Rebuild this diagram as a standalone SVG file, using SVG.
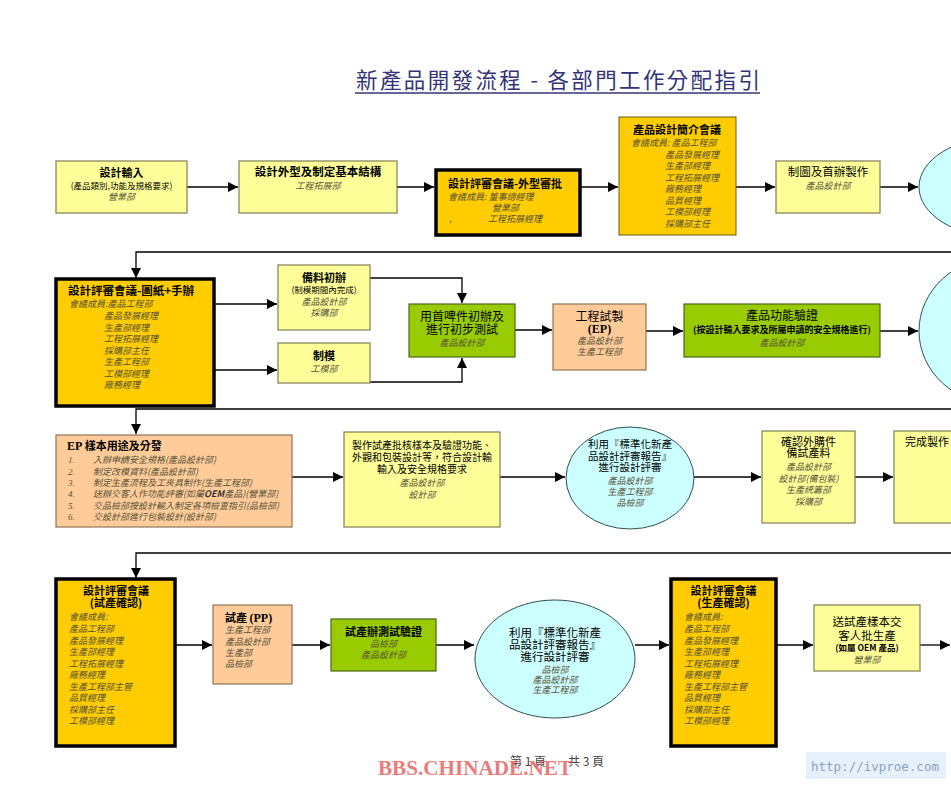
<svg xmlns="http://www.w3.org/2000/svg" width="951" height="785" viewBox="0 0 951 785">
<defs>
<marker id="ah" viewBox="0 0 10 10" markerWidth="10" markerHeight="10" markerUnits="userSpaceOnUse" refX="10" refY="5" orient="auto"><path d="M0,0 L10,5 L0,10 z" fill="#000"/></marker>
<style>
text{font-family:"Noto Sans CJK TC","Liberation Sans",sans-serif;fill:#000}
.c{text-anchor:middle}
.b{font-weight:bold;font-size:11px}
.n{font-size:11.5px}
.s{font-size:8.5px}
.i{font-style:italic;font-size:9px;fill:#58533a}
.sf{font-family:"Liberation Serif",serif}
.y{fill:#FFFF99;stroke:#7f7f55;stroke-width:1.2}
.g{fill:#FFCC00;stroke:#6b5a1e;stroke-width:1}
.gk{fill:#FFCC00;stroke:#000;stroke-width:3.5}
.gr{fill:#99CC00;stroke:#4d661a;stroke-width:1.2}
.p{fill:#FFCC99;stroke:#8c7359;stroke-width:1.2}
.e{fill:#CCFFFF;stroke:#2f4f4f;stroke-width:1}
.ln{fill:none;stroke:#000;stroke-width:1.3}
</style>
</defs>
<rect width="951" height="785" fill="#fff"/>
<g id="title">
<text x="356" y="88" textLength="404" lengthAdjust="spacing" style="font-size:21.5px;fill:#333377">新產品開發流程 - 各部門工作分配指引</text>
<line x1="355" y1="93" x2="760" y2="93" stroke="#333377" stroke-width="1.3"/>
</g>
<g id="connectors" class="ln" marker-end="url(#ah)">
<line x1="187" y1="187" x2="238" y2="187"/>
<line x1="397" y1="187" x2="434" y2="187"/>
<line x1="580" y1="187" x2="618" y2="187"/>
<line x1="736" y1="187" x2="775" y2="187"/>
<line x1="880" y1="187" x2="918" y2="187"/>
<polyline points="960,252 136,252 136,278"/>
<line x1="215" y1="304" x2="277" y2="304"/>
<line x1="215" y1="370" x2="277" y2="370"/>
<polyline points="370,278 462,278 462,303"/>
<polyline points="370,382 462,382 462,358"/>
<line x1="515" y1="330" x2="552" y2="330"/>
<line x1="646" y1="331" x2="683" y2="331"/>
<line x1="880" y1="331" x2="918" y2="331"/>
<polyline points="960,409 136,409 136,434"/>
<line x1="292" y1="477" x2="343" y2="477"/>
<line x1="500" y1="477" x2="565" y2="477"/>
<line x1="694" y1="477" x2="761" y2="477"/>
<line x1="855" y1="477" x2="893" y2="477"/>
<polyline points="960,553 136,553 136,578"/>
<line x1="176" y1="645" x2="212" y2="645"/>
<line x1="292" y1="645" x2="330" y2="645"/>
<line x1="436" y1="645" x2="474" y2="645"/>
<line x1="635" y1="645" x2="669" y2="645"/>
<line x1="777" y1="645" x2="813" y2="645"/>
<line x1="920" y1="645" x2="950" y2="645"/>
</g>
<g id="n1"><rect class="y" x="56" y="161" width="131" height="52"/>
<text x="121.5" y="177" class="c b">設計輸入</text>
<text x="121.5" y="189" class="c s">(產品類別,功能及規格要求)</text>
<text x="121.5" y="200" class="c i">營業部</text></g>
<g id="n2"><rect class="y" x="239" y="161" width="158" height="52"/>
<text x="318" y="176" class="c b" style="font-size:11.5px">設計外型及制定基本結構</text>
<text x="318" y="189" class="c i">工程拓展部</text></g>
<g id="n3"><rect class="gk" x="436" y="170" width="144" height="65"/>
<text x="448" y="188" class="b">設計評審會議-外型審批</text>
<text x="448" y="200" class="i">會議成員:  董事總經理</text>
<text x="492" y="211" class="i">營業部</text>
<text x="449" y="222" class="i">,</text>
<text x="488" y="222" class="i">工程拓展經理</text></g>
<g id="n4"><rect class="g" x="619" y="117" width="117" height="118"/>
<text x="677" y="134" class="c b">產品設計簡介會議</text>
<text x="631" y="146" class="i">會議成員: 產品工程部</text>
<text x="665" y="158" class="i">產品發展經理</text>
<text x="665" y="169" class="i">生產部經理</text>
<text x="665" y="181" class="i">工程拓展經理</text>
<text x="665" y="192" class="i">廠務經理</text>
<text x="665" y="204" class="i">品質經理</text>
<text x="665" y="215" class="i">工模部經理</text>
<text x="665" y="227" class="i">採購部主任</text></g>
<g id="n5"><rect class="y" x="776" y="161" width="104" height="52"/>
<text x="828" y="176" class="c n">制圖及首辦製作</text>
<text x="828" y="189" class="c i">產品設計部</text></g>
<g id="n6"><ellipse class="e" cx="1000" cy="187" rx="81" ry="50"/></g>
<g id="n7"><rect class="gk" x="56" y="279" width="158" height="127"/>
<text x="68" y="295" class="b" style="font-size:11.5px">設計評審會議-圖紙+手辦</text>
<text x="69" y="307" class="i">會議成員:產品工程部</text>
<text x="104" y="319" class="i">產品發展經理</text>
<text x="104" y="330.5" class="i">生產部經理</text>
<text x="104" y="342" class="i">工程拓展經理</text>
<text x="104" y="353.5" class="i">採購部主任</text>
<text x="104" y="365" class="i">生產工程部</text>
<text x="104" y="376.5" class="i">工模部經理</text>
<text x="104" y="388" class="i">廠務經理</text></g>
<g id="n8"><rect class="y" x="278" y="265" width="92" height="65"/>
<text x="324" y="282" class="c b">備料初辦</text>
<text x="324" y="293" class="c s">(制模期間內完成)</text>
<text x="324" y="305" class="c i">產品設計部</text>
<text x="324" y="316" class="c i">採購部</text></g>
<g id="n9"><rect class="y" x="278" y="343" width="92" height="40"/>
<text x="324" y="360" class="c b">制模</text>
<text x="324" y="372" class="c i">工模部</text></g>
<g id="n10"><rect class="gr" x="409" y="304" width="106" height="53"/>
<text x="462" y="321" class="c" style="font-size:12px">用首啤件初辦及</text>
<text x="462" y="334" class="c" style="font-size:12px">進行初步測試</text>
<text x="462" y="346" class="c i">產品設計部</text></g>
<g id="n11"><rect class="p" x="553" y="304" width="93" height="66"/>
<text x="599.5" y="321" class="c" style="font-size:12px">工程試製</text>
<text x="599.5" y="333" class="c sf" style="font-size:12px;font-weight:bold">(EP)</text>
<text x="599.5" y="344" class="c i">產品設計部</text>
<text x="599.5" y="355" class="c i">生產工程部</text></g>
<g id="n12"><rect class="gr" x="684" y="304" width="196" height="53"/>
<text x="782" y="320" class="c" style="font-size:12px">產品功能驗證</text>
<text x="782" y="333" class="c" style="font-size:9px;font-weight:bold">(按設計輸入要求及所屬申請的安全規格進行)</text>
<text x="782" y="346" class="c i">產品設計部</text></g>
<g id="n13"><ellipse class="e" cx="1000" cy="331" rx="81" ry="74"/></g>
<g id="n14"><rect class="p" x="56" y="435" width="236" height="92"/>
<text x="67" y="450" class="b"><tspan class="sf" style="font-size:12px">EP</tspan> 樣本用途及分發</text>
<text x="68" y="463" class="i sf">1.</text><text x="93" y="463" class="i">入辦申請安全規格(產品設計部)</text>
<text x="68" y="475" class="i sf">2.</text><text x="93" y="475" class="i">制定改模資料(產品設計部)</text>
<text x="68" y="486" class="i sf">3.</text><text x="93" y="486" class="i">制定生產流程及工夾具制作(生產工程部)</text>
<text x="68" y="497" class="i sf">4.</text><text x="93" y="497" class="i">送辦交客人作功能評審(如屬<tspan style="font-weight:bold;fill:#333">OEM</tspan>產品)(營業部)</text>
<text x="68" y="509" class="i sf">5.</text><text x="93" y="509" class="i">交品檢部按設計輸入制定各項檢查指引(品檢部)</text>
<text x="68" y="520" class="i sf">6.</text><text x="93" y="520" class="i">交設計部進行包裝設計(設計部)</text></g>
<g id="n15"><rect class="y" x="344" y="432" width="156" height="95"/>
<text x="422" y="449" class="c" style="font-size:10px">製作試產批核樣本及驗證功能、</text>
<text x="422" y="461" class="c" style="font-size:10px">外觀和包裝設計等，符合設計輸</text>
<text x="422" y="473" class="c" style="font-size:10px">輸入及安全規格要求</text>
<text x="422" y="486" class="c i">產品設計部</text>
<text x="422" y="498" class="c i">設計部</text></g>
<g id="n16"><ellipse class="e" cx="630" cy="478" rx="64" ry="51"/>
<text x="630" y="448" class="c" style="font-size:10.5px">利用『標準化新產</text>
<text x="630" y="460" class="c" style="font-size:10.5px">品設計評審報告』</text>
<text x="630" y="471" class="c" style="font-size:10.5px">進行設計評審</text>
<text x="630" y="484" class="c i">產品設計部</text>
<text x="630" y="495" class="c i">生產工程部</text>
<text x="630" y="506" class="c i">品檢部</text></g>
<g id="n17"><rect class="y" x="762" y="431" width="93" height="92"/>
<text x="808.5" y="446" class="c" style="font-size:11px">確認外購件</text>
<text x="808.5" y="457" class="c" style="font-size:11px">備試產料</text>
<text x="808.5" y="470" class="c i">產品設計部</text>
<text x="808.5" y="482" class="c i">設計部(備包裝)</text>
<text x="808.5" y="493" class="c i">生產統籌部</text>
<text x="808.5" y="505" class="c i">採購部</text></g>
<g id="n18"><rect class="y" x="894" y="431" width="80" height="92"/>
<text x="905" y="446" style="font-size:11px">完成製作</text></g>
<g id="n19"><rect class="gk" x="56" y="579" width="119" height="167"/>
<text x="116" y="595" class="c b">設計評審會議</text>
<text x="116" y="607" class="c b">(試產確認)</text>
<text x="69" y="620" class="i">會議成員:</text>
<text x="69" y="632" class="i">產品工程部</text>
<text x="69" y="643.5" class="i">產品發展經理</text>
<text x="69" y="655" class="i">生產部經理</text>
<text x="69" y="666.5" class="i">工程拓展經理</text>
<text x="69" y="678" class="i">廠務經理</text>
<text x="69" y="689.5" class="i">生產工程部主管</text>
<text x="69" y="701" class="i">品質經理</text>
<text x="69" y="712.5" class="i">採購部主任</text>
<text x="69" y="724" class="i">工模部經理</text></g>
<g id="n20"><rect class="p" x="213" y="605" width="79" height="79"/>
<text x="225" y="622" class="b">試產 <tspan class="sf" style="font-size:12px">(PP)</tspan></text>
<text x="225" y="633" class="i">生產工程部</text>
<text x="225" y="645" class="i">產品設計部</text>
<text x="225" y="656" class="i">生產部</text>
<text x="225" y="667" class="i">品檢部</text></g>
<g id="n21"><rect class="gr" x="331" y="619" width="105" height="52"/>
<text x="383.5" y="636" class="c b">試產辦測試驗證</text>
<text x="383.5" y="647" class="c i">品檢部</text>
<text x="383.5" y="658" class="c i">產品設計部</text></g>
<g id="n22"><ellipse class="e" cx="555" cy="659" rx="80" ry="59"/>
<text x="555" y="637" class="c n">利用『標準化新產</text>
<text x="555" y="649" class="c n">品設計評審報告』</text>
<text x="555" y="661" class="c n">進行設計評審</text>
<text x="555" y="673" class="c i">品檢部</text>
<text x="555" y="683" class="c i">產品設計部</text>
<text x="555" y="693" class="c i">生產工程部</text></g>
<g id="n23"><rect class="gk" x="671" y="579" width="105" height="167"/>
<text x="723.5" y="595" class="c b">設計評審會議</text>
<text x="723.5" y="607" class="c b">(生產確認)</text>
<text x="684" y="620" class="i">會議成員:</text>
<text x="684" y="632" class="i">產品工程部</text>
<text x="684" y="643.5" class="i">產品發展經理</text>
<text x="684" y="655" class="i">生產部經理</text>
<text x="684" y="666.5" class="i">工程拓展經理</text>
<text x="684" y="678" class="i">廠務經理</text>
<text x="684" y="689.5" class="i">生產工程部主管</text>
<text x="684" y="701" class="i">品質經理</text>
<text x="684" y="712.5" class="i">採購部主任</text>
<text x="684" y="724" class="i">工模部經理</text></g>
<g id="n24"><rect class="y" x="814" y="605" width="106" height="66"/>
<text x="867" y="626" class="c n">送試產樣本交</text>
<text x="867" y="640" class="c n">客人批生產</text>
<text x="867" y="651" class="c" style="font-size:8.5px;font-weight:bold">(如屬 OEM 產品)</text>
<text x="867" y="663" class="c i">營業部</text></g>
<g id="footer">
<text x="510" y="766" style="font-size:12px;fill:#444">第 1 頁</text>
<text x="568" y="766" style="font-size:12px;fill:#444">共 3 頁</text>
<text x="378" y="775" textLength="194" lengthAdjust="spacingAndGlyphs" style="font-family:'Liberation Serif',serif;font-weight:bold;font-size:20.5px;fill:#E86A6A;fill-opacity:0.9">BBS.CHINADE.NET</text>
<rect x="806" y="752" width="140" height="27" fill="#E6F0FA"/>
<text x="811" y="771" style="font-family:'DejaVu Sans Mono',monospace;font-size:12.5px;fill:#86A3C3">http://ivproe.com</text>
</g>
</svg>
